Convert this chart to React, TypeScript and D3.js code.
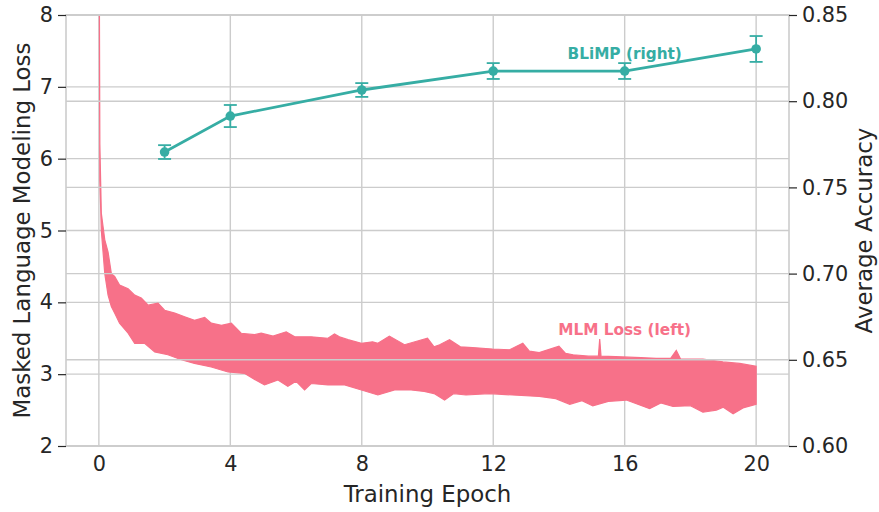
import { useEffect, useRef } from "react"
import * as d3 from "d3"

// ticks
const epochTicks = [0, 4, 8, 12, 16, 20]
const lossTicks = [2, 3, 4, 5, 6, 7, 8]
const accTicks = [0.6, 0.65, 0.7, 0.75, 0.8, 0.85]

// BLiMP average accuracy (right axis)
const blimpEpoch = [2, 4, 8, 12, 16, 20]
const blimpAcc = [0.7705, 0.7914, 0.8065, 0.8175, 0.8175, 0.8303]
const blimpErr = [0.004, 0.0064, 0.004, 0.0046, 0.0046, 0.0075]

// MLM loss (left axis), read as the upper / lower envelope of the noisy curve
const upperEpoch = [0, 0.03, 0.075, 0.18, 0.28, 0.38, 0.48, 0.63, 0.89, 1.09, 1.29, 1.5, 1.8, 2.0, 2.31, 2.61, 2.91, 3.22, 3.42, 3.73, 4.03, 4.33, 4.74, 4.94, 5.3, 5.7, 5.96, 6.46, 6.97, 7.17, 7.32, 7.58, 7.99, 8.33, 8.49, 8.84, 9.3, 10.0, 10.2, 10.37, 10.67, 11.0, 11.37, 11.98, 12.5, 12.9, 13.1, 13.4, 14.0, 14.2, 14.43, 14.9, 15.2, 15.24, 15.28, 15.94, 16.5, 16.96, 17.4, 17.57, 17.7, 18.38, 18.99, 19.5, 20.0]
const upperLoss = [10.5, 6.2, 5.24, 4.87, 4.7, 4.4, 4.36, 4.24, 4.19, 4.1, 4.06, 3.96, 3.99, 3.89, 3.85, 3.8, 3.75, 3.79, 3.71, 3.68, 3.71, 3.57, 3.55, 3.57, 3.53, 3.59, 3.52, 3.52, 3.5, 3.56, 3.52, 3.48, 3.43, 3.45, 3.43, 3.53, 3.41, 3.5, 3.38, 3.41, 3.48, 3.38, 3.37, 3.35, 3.34, 3.43, 3.32, 3.3, 3.39, 3.29, 3.27, 3.25, 3.25, 3.49, 3.25, 3.24, 3.23, 3.22, 3.22, 3.33, 3.21, 3.21, 3.17, 3.15, 3.11]
const lowerEpoch = [0, 0.03, 0.075, 0.18, 0.28, 0.38, 0.48, 0.63, 0.89, 1.09, 1.39, 1.7, 2.1, 2.51, 2.91, 3.42, 3.93, 4.44, 4.84, 5.04, 5.45, 5.75, 6.0, 6.26, 6.46, 6.97, 7.48, 7.99, 8.49, 9.0, 9.5, 9.9, 10.2, 10.52, 10.8, 11.17, 11.88, 12.59, 13.4, 13.9, 14.33, 14.7, 15.03, 15.5, 16.05, 16.76, 17.1, 17.47, 18.0, 18.38, 18.79, 19.0, 19.3, 19.6, 20.0]
const lowerLoss = [10.5, 5.7, 5.0, 4.4, 4.1, 3.94, 3.85, 3.71, 3.57, 3.43, 3.43, 3.31, 3.27, 3.2, 3.15, 3.1, 3.03, 3.01, 2.9, 2.85, 2.92, 2.83, 2.9, 2.78, 2.87, 2.85, 2.85, 2.78, 2.71, 2.78, 2.78, 2.76, 2.73, 2.64, 2.73, 2.71, 2.73, 2.71, 2.69, 2.66, 2.58, 2.63, 2.56, 2.62, 2.64, 2.52, 2.6, 2.55, 2.56, 2.47, 2.5, 2.54, 2.45, 2.53, 2.58]

const PINK = "#f77189"
const TEAL = "#36ada4"
const GRID = "#cccccc"
const INK = "#262626"
const FONT = "DejaVu Sans, sans-serif"

export default function App() {
    const ref = useRef<SVGSVGElement>(null)

    useEffect(() => {
        const width = 879, height = 512
        const left = 66, right = 789, top = 15, bottom = 446

        const svg = d3.select(ref.current)
        svg.selectAll("*").remove()
        svg.attr("width", width).attr("height", height)
            .style("font-family", FONT)

        const x = d3.scaleLinear().domain([-1, 21]).range([left, right])
        const yL = d3.scaleLinear().domain([2, 8]).range([bottom, top])
        const yR = d3.scaleLinear().domain([0.6, 0.85]).range([bottom, top])

        svg.append("defs").append("clipPath").attr("id", "plotClip")
            .append("rect")
            .attr("x", left).attr("y", top)
            .attr("width", right - left).attr("height", bottom - top)

        // left axis grid
        const grid = svg.append("g")
        grid.selectAll(".vgrid")
            .data(epochTicks)
            .join("line")
            .attr("x1", (d) => x(d)).attr("x2", (d) => x(d))
            .attr("y1", top).attr("y2", bottom)
            .attr("stroke", GRID).attr("stroke-width", 1.4)
        grid.selectAll(".hgrid")
            .data(lossTicks)
            .join("line")
            .attr("x1", left).attr("x2", right)
            .attr("y1", (d) => yL(d)).attr("y2", (d) => yL(d))
            .attr("stroke", GRID).attr("stroke-width", 1.4)

        // MLM loss band: upper edge forward, lower edge back
        const bandPts: [number, number][] = [
            ...upperEpoch.map((e, i) => [e, upperLoss[i]] as [number, number]),
            ...lowerEpoch.map((e, i) => [e, lowerLoss[i]] as [number, number]).reverse(),
        ]
        const band = d3.line<[number, number]>()
            .x((d) => x(d[0]))
            .y((d) => yL(d[1]))

        svg.append("g")
            .attr("clip-path", "url(#plotClip)")
            .append("path")
            .datum(bandPts)
            .attr("d", (d) => band(d) + "Z")
            .attr("fill", PINK)
            .attr("stroke", PINK)
            .attr("stroke-width", 1.2)
            .attr("stroke-linejoin", "miter")

        // right axis grid on top of the left axes content
        svg.append("g").selectAll("line")
            .data(accTicks)
            .join("line")
            .attr("x1", left).attr("x2", right)
            .attr("y1", (d) => yR(d)).attr("y2", (d) => yR(d))
            .attr("stroke", GRID).attr("stroke-width", 1.4)

        // spines
        svg.append("rect")
            .attr("x", left).attr("y", top)
            .attr("width", right - left).attr("height", bottom - top)
            .attr("fill", "none")
            .attr("stroke", GRID).attr("stroke-width", 1.6)

        // BLiMP line with error bars
        const blimp = svg.append("g")
        const line = d3.line<number>()
            .x((i) => x(blimpEpoch[i]))
            .y((i) => yR(blimpAcc[i]))

        blimp.append("path")
            .datum(d3.range(blimpEpoch.length))
            .attr("d", line)
            .attr("fill", "none")
            .attr("stroke", TEAL)
            .attr("stroke-width", 2.8)

        const bars = blimp.selectAll(".err")
            .data(d3.range(blimpEpoch.length))
            .join("g")
            .attr("stroke", TEAL)
            .attr("stroke-width", 1.8)

        bars.append("line")
            .attr("x1", (i) => x(blimpEpoch[i])).attr("x2", (i) => x(blimpEpoch[i]))
            .attr("y1", (i) => yR(blimpAcc[i] - blimpErr[i]))
            .attr("y2", (i) => yR(blimpAcc[i] + blimpErr[i]))
        bars.append("line")
            .attr("x1", (i) => x(blimpEpoch[i]) - 6.5).attr("x2", (i) => x(blimpEpoch[i]) + 6.5)
            .attr("y1", (i) => yR(blimpAcc[i] - blimpErr[i]))
            .attr("y2", (i) => yR(blimpAcc[i] - blimpErr[i]))
        bars.append("line")
            .attr("x1", (i) => x(blimpEpoch[i]) - 6.5).attr("x2", (i) => x(blimpEpoch[i]) + 6.5)
            .attr("y1", (i) => yR(blimpAcc[i] + blimpErr[i]))
            .attr("y2", (i) => yR(blimpAcc[i] + blimpErr[i]))

        blimp.selectAll("circle")
            .data(d3.range(blimpEpoch.length))
            .join("circle")
            .attr("cx", (i) => x(blimpEpoch[i]))
            .attr("cy", (i) => yR(blimpAcc[i]))
            .attr("r", 4.8)
            .attr("fill", TEAL)

        // annotations
        svg.append("text")
            .attr("x", x(16)).attr("y", yR(0.8245))
            .attr("text-anchor", "middle")
            .attr("font-weight", "bold")
            .attr("font-size", 15.3)
            .attr("fill", TEAL)
            .text("BLiMP (right)")

        svg.append("text")
            .attr("x", x(16)).attr("y", yL(3.545))
            .attr("text-anchor", "middle")
            .attr("font-weight", "bold")
            .attr("font-size", 15.3)
            .attr("fill", PINK)
            .text("MLM Loss (left)")

        // axes
        const styleAxis = (g) => {
            g.select(".domain").remove()
            g.selectAll(".tick line").attr("stroke", INK).attr("stroke-width", 1.2)
            g.selectAll(".tick text").attr("fill", INK).style("font-size", "20.8px").style("font-family", FONT)
        }

        svg.append("g")
            .attr("transform", `translate(${left}, 0)`)
            .call(d3.axisLeft(yL).tickValues(lossTicks).tickSize(8).tickPadding(5).tickFormat(d3.format("d")))
            .call(styleAxis)

        svg.append("g")
            .attr("transform", `translate(${right}, 0)`)
            .call(d3.axisRight(yR).tickValues(accTicks).tickSize(8).tickPadding(5).tickFormat(d3.format(".2f")))
            .call(styleAxis)

        svg.append("g")
            .attr("transform", `translate(0, ${bottom})`)
            .call(d3.axisBottom(x).tickValues(epochTicks).tickSize(0).tickPadding(10).tickFormat(d3.format("d")))
            .call(styleAxis)

        // axis labels
        svg.append("text")
            .attr("x", (left + right) / 2).attr("y", 502)
            .attr("text-anchor", "middle")
            .attr("font-size", 22.9)
            .attr("fill", INK)
            .text("Training Epoch")

        svg.append("text")
            .attr("transform", `translate(30, ${(top + bottom) / 2}) rotate(-90)`)
            .attr("text-anchor", "middle")
            .attr("font-size", 22.9)
            .attr("fill", INK)
            .text("Masked Language Modeling Loss")

        svg.append("text")
            .attr("transform", `translate(872, ${(top + bottom) / 2}) rotate(-90)`)
            .attr("text-anchor", "middle")
            .attr("font-size", 22.9)
            .attr("fill", INK)
            .text("Average Accuracy")
    }, [])

    return (
        <svg ref={ref} style={{ position: "absolute", left: 0, top: 0, background: "white" }}></svg>
    )
}
